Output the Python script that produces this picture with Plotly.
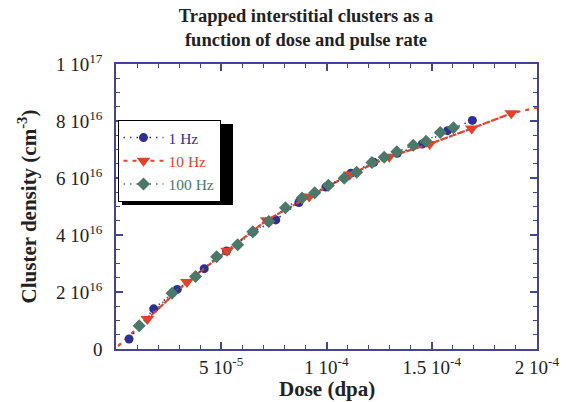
import plotly.graph_objects as go

# Dose in units of 1e-5 dpa, density in units of 1e16 cm^-3
dose_1hz = [0.62, 1.79, 2.91, 4.19, 5.25, 6.50, 7.59, 8.69, 9.97, 11.16, 12.25, 13.36, 14.54, 15.75, 16.93]
dens_1hz = [0.35, 1.41, 2.09, 2.82, 3.44, 4.10, 4.53, 5.14, 5.68, 6.17, 6.55, 6.87, 7.19, 7.66, 8.02]

dose_10hz = [1.49, 3.37, 5.28, 7.16, 9.18, 11.11, 12.98, 14.90, 16.90, 18.78]
dens_10hz = [1.05, 2.35, 3.45, 4.52, 5.35, 6.12, 6.75, 7.19, 7.74, 8.27]
# dashed 10 Hz curve extends past the data
dose_10hz_line = [0.1] + dose_10hz + [20.0]
dens_10hz_line = [0.1] + dens_10hz + [8.47]

dose_100hz = [1.10, 2.66, 3.78, 4.78, 5.78, 6.50, 7.26, 8.05, 8.84, 9.44, 10.09, 10.84, 11.43,
              12.16, 12.74, 13.34, 14.12, 14.73, 15.40, 16.03]
dens_100hz = [0.82, 1.96, 2.54, 3.24, 3.66, 4.11, 4.47, 4.96, 5.30, 5.48, 5.75, 5.99, 6.20,
              6.54, 6.73, 6.92, 7.15, 7.29, 7.60, 7.76]

x_tickvals = [0, 5e-5, 1e-4, 1.5e-4, 2e-4]
x_ticktext = ["", "5 10<sup>-5</sup>", "1 10<sup>-4</sup>", "1.5 10<sup>-4</sup>", "2 10<sup>-4</sup>"]
y_tickvals = [0, 2e16, 4e16, 6e16, 8e16, 1e17]
y_ticktext = ["0", "2 10<sup>16</sup>", "4 10<sup>16</sup>", "6 10<sup>16</sup>",
              "8 10<sup>16</sup>", "1 10<sup>17</sup>"]

BLUE = "#2e2f8e"
RED = "#e4412b"
GREEN = "#4b7868"
AXIS = "#45458f"
FONT = "Liberation Serif"

sx = lambda v: [a * 1e-5 for a in v]
sy = lambda v: [a * 1e16 for a in v]

fig = go.Figure()
fig.add_trace(go.Scatter(x=sx(dose_10hz_line), y=sy(dens_10hz_line), mode="lines",
                         line=dict(color=RED, width=2.2, dash="4px,5px"), showlegend=False))
fig.add_trace(go.Scatter(x=sx(dose_1hz), y=sy(dens_1hz), mode="lines+markers",
                         name="<span style='color:%s'>1 Hz</span>" % BLUE,
                         line=dict(color=BLUE, width=1.5, dash="1.5px,5px"),
                         marker=dict(symbol="circle", size=9, color=BLUE)))
fig.add_trace(go.Scatter(x=sx(dose_10hz), y=sy(dens_10hz), mode="lines+markers",
                         name="<span style='color:%s'>10 Hz</span>" % RED,
                         line=dict(color=RED, width=2.2, dash="4px,5px"),
                         marker=dict(symbol="triangle-down", size=12, color=RED)))
fig.add_trace(go.Scatter(x=sx(dose_100hz), y=sy(dens_100hz), mode="lines+markers",
                         name="<span style='color:%s'>100 Hz</span>" % GREEN,
                         line=dict(color=GREEN, width=1.5, dash="1.5px,5px"),
                         marker=dict(symbol="diamond", size=10, color=GREEN)))

axis_common = dict(showline=True, linecolor=AXIS, linewidth=1.5, mirror="allticks",
                   ticks="inside", ticklen=7, tickcolor=AXIS, tickwidth=1.5,
                   showgrid=False, zeroline=False, automargin=False,
                   tickfont=dict(family=FONT, size=19, color="#222"))

fig.update_xaxes(range=[0, 2e-4], tickmode="array", tickvals=x_tickvals, ticktext=x_ticktext,
                 minor=dict(tickmode="linear", tick0=0, dtick=1e-5, ticks="inside", ticklen=4,
                            tickcolor=AXIS, tickwidth=1.2, showgrid=False),
                 ticklabelstandoff=0,
                 **axis_common)
fig.update_yaxes(range=[0, 1e17], tickmode="array", tickvals=y_tickvals, ticktext=y_ticktext,
                 minor=dict(tickmode="linear", tick0=0, dtick=5e15, ticks="inside", ticklen=4,
                            tickcolor=AXIS, tickwidth=1.2, showgrid=False),
                 title=dict(text="<b>Cluster density (cm<sup>-3</sup>)</b>",
                            font=dict(family=FONT, size=21, color="#222"), standoff=14),
                 ticklabelstandoff=8,
                 **axis_common)

# x-axis title placed as text under the tick labels
fig.add_annotation(text="<b>Dose (dpa)</b>", xref="paper", yref="paper",
                   x=0.5, y=-40 / 285, xanchor="center", yanchor="middle", showarrow=False,
                   font=dict(family=FONT, size=21, color="#222"))

# legend drop shadow
fig.add_shape(type="rect", xref="paper", yref="paper", layer="above",
              x0=(122 - 116) / 421, x1=(233 - 116) / 421,
              y0=(349 - 205) / 285, y1=(349 - 124) / 285,
              fillcolor="black", line=dict(width=0))

# the page body adds an 8px margin, so the figure is 8px smaller and margins shifted
fig.update_layout(
    width=562, height=394,
    margin=dict(l=108, r=33, t=56, b=53, autoexpand=False),
    paper_bgcolor="white", plot_bgcolor="white",
    title=dict(text="<b>Trapped interstitial clusters as a<br>function of dose and pulse rate</b>",
               x=298 / 562, xanchor="center", yref="container", y=1 - 14 / 394, yanchor="middle",
               font=dict(family=FONT, size=18.5, color="#222")),
    legend=dict(x=1.5 / 421, y=(349 - 120) / 285, xanchor="left", yanchor="top",
                bgcolor="white", bordercolor="black", borderwidth=1,
                font=dict(family=FONT, size=15.5), itemwidth=40, tracegroupgap=0),
    showlegend=True,
)

fig.write_html("out.html")
